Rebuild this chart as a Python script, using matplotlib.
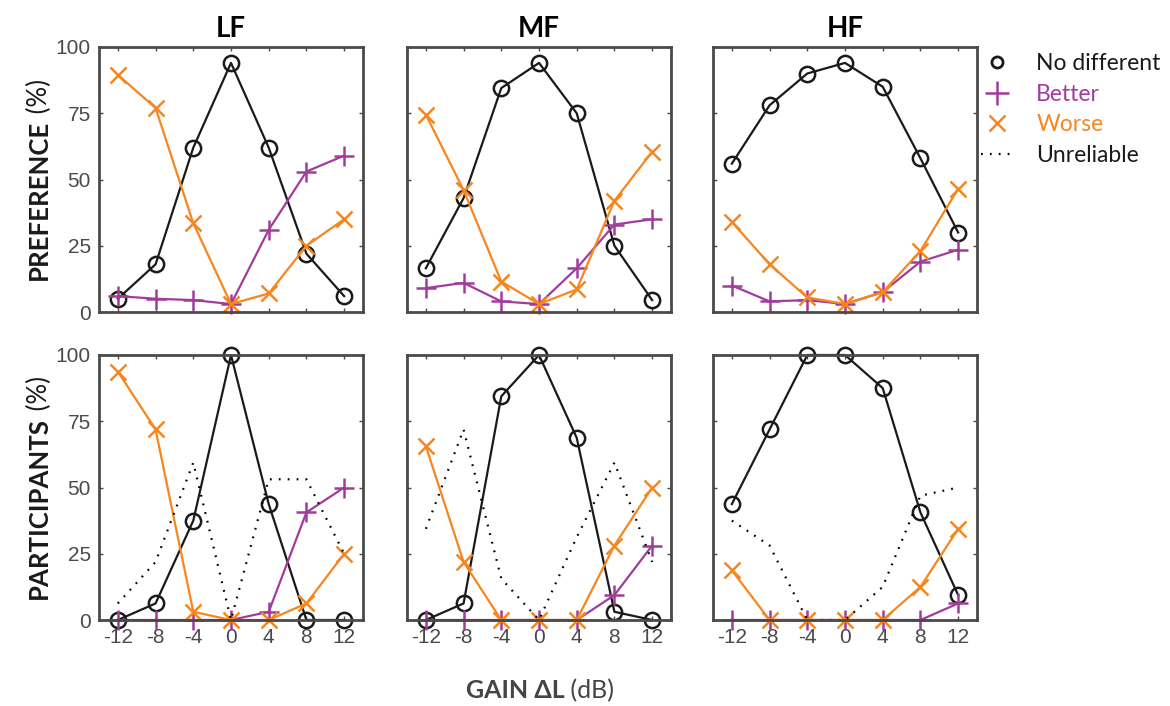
import matplotlib
matplotlib.use('Agg')
import matplotlib.pyplot as plt
from matplotlib.lines import Line2D

plt.rcParams['font.family'] = ['Lato', 'DejaVu Sans']
plt.rcParams['axes.unicode_minus'] = False

# data
gain = [-12, -8, -4, 0, 4, 8, 12]
bands = ['LF', 'MF', 'HF']

# preference (%) per band: LF, MF, HF
pref_nodiff = [[5, 18, 62, 94, 62, 22, 6],
               [16.5, 43, 84.5, 94, 75, 25, 4.5],
               [56, 78, 90, 94, 85, 58, 30]]
pref_better = [[6, 5, 4.5, 3, 31, 53, 59],
               [9, 11, 4, 3, 16.5, 33, 35],
               [10, 4, 4.5, 3, 7.5, 19, 23.5]]
pref_worse = [[89.5, 77, 33.5, 3, 7, 25, 35],
              [74.5, 46, 11.5, 3, 8.5, 42, 60.5],
              [34, 18, 5.5, 3, 7.5, 23, 46.5]]

# participants (%) per band: LF, MF, HF
part_nodiff = [[0, 6.25, 37.5, 100, 43.75, 0, 0],
               [0, 6.25, 84.4, 100, 68.75, 3.1, 0],
               [43.75, 71.9, 100, 100, 87.5, 40.6, 9.4]]
part_better = [[0, 0, 0, 0, 3.1, 40.6, 50],
               [0, 0, 0, 0, 0, 9.4, 28.1],
               [0, 0, 0, 0, 0, 0, 6.25]]
part_worse = [[93.75, 71.9, 3.1, 0, 0, 6.25, 25],
              [65.6, 21.9, 0, 0, 0, 28.1, 50],
              [18.75, 0, 0, 0, 0, 12.5, 34.4]]
part_unrel = [[6.25, 21.9, 59.4, 0, 53.1, 53.1, 25],
              [34.4, 71.9, 15.6, 0, 31.25, 59.4, 21.9],
              [37.5, 28.1, 0, 0, 12.5, 46.9, 50]]

c_nd = '#1a1a1a'
c_better = '#a23c9c'
c_worse = '#f7861f'
frame_c = '#4a4a4a'
tick_c = '#4a4a4a'

W, H = 1170, 706
fig = plt.figure(figsize=(W / 100, H / 100), dpi=100)

lefts = [99, 407, 713]
rows = [(47, 312), (355, 620)]


def style_axes(ax, show_x, show_y):
    ax.set_xlim(-14, 14)
    ax.set_ylim(0, 100)
    ax.set_xticks(gain)
    ax.set_yticks([0, 25, 50, 75, 100])
    ax.tick_params(direction='in', length=3, width=1, color=tick_c,
                   top=True, right=True, labelsize=15, labelcolor=tick_c,
                   pad=6)
    for lab in ax.get_xticklabels() + ax.get_yticklabels():
        lab.set_family(['Liberation Sans', 'DejaVu Sans'])
    if not show_x:
        ax.set_xticklabels([])
    if not show_y:
        ax.set_yticklabels([])
    for s in ax.spines.values():
        s.set_color(frame_c)
        s.set_linewidth(2.0)


for r, (top, bot) in enumerate(rows):
    for i, band in enumerate(bands):
        ax = fig.add_axes([lefts[i] / W, 1 - bot / H, 264 / W, (bot - top) / H])
        if r == 0:
            nd, bt, wr = pref_nodiff[i], pref_better[i], pref_worse[i]
        else:
            nd, bt, wr = part_nodiff[i], part_better[i], part_worse[i]
        ax.plot(gain, nd, '-o', color=c_nd, mfc='none', lw=1.6, ms=11, mew=1.8, clip_on=False)
        ax.plot(gain, bt, '-+', color=c_better, ms=15, lw=1.6, mew=1.8, clip_on=False)
        ax.plot(gain, wr, '-x', color=c_worse, ms=11, lw=1.6, mew=1.8, clip_on=False)
        if r == 1:
            ax.plot(gain, part_unrel[i], color='black', lw=1.6,
                    linestyle=(0, (0.8, 3.2)), clip_on=False)
        style_axes(ax, show_x=(r == 1), show_y=(i == 0))
        if r == 0:
            ax.set_title(band, fontsize=20, fontweight='bold', pad=7)

fig.canvas.draw()
rend = fig.canvas.get_renderer()

# y labels: bold word + regular (%)
for (top, bot), word in zip(rows, ['PREFERENCE', 'PARTICIPANTS']):
    ta = fig.text(0, 0, word, rotation=90, fontsize=18.5, fontweight='bold',
                  color='#1a1a1a', ha='center', va='bottom')
    tb = fig.text(0, 0, ' (%)', rotation=90, fontsize=18.5, color='#1a1a1a',
                  ha='center', va='bottom')
    ha_ = ta.get_window_extent(rend).height
    hb_ = tb.get_window_extent(rend).height
    yc = (top + bot) / 2
    y0 = H - yc - (ha_ + hb_) / 2
    ta.set_position((39 / W, y0 / H))
    tb.set_position((39 / W, (y0 + ha_) / H))

# x label
t2 = fig.text(0, 0, 'GAIN ΔL', fontsize=18, fontweight='bold', color='#444444',
              ha='left', va='baseline')
t3 = fig.text(0, 0, ' (dB)', fontsize=18, color='#444444', ha='left', va='baseline')
w2 = t2.get_window_extent(rend).width
w3 = t3.get_window_extent(rend).width
xc = 540
y_base = 1 - 698 / H
t2.set_position(((xc - (w2 + w3) / 2) / W, y_base))
t3.set_position(((xc - (w2 + w3) / 2 + w2) / W, y_base))

# legend
handles = [
    Line2D([], [], ls='none', marker='o', mfc='none', mec=c_nd, ms=8, mew=2),
    Line2D([], [], ls='none', marker='+', color=c_better, ms=17, mew=1.8),
    Line2D([], [], ls='none', marker='x', color=c_worse, ms=12, mew=1.8),
    Line2D([], [], color='black', lw=1.6, linestyle=(0, (0.8, 3.2))),
]
labels = ['No different', 'Better', 'Worse', 'Unreliable']
leg = fig.legend(handles, labels, loc='upper left',
                 bbox_to_anchor=(972 / W, 1 - 44 / H), frameon=False,
                 fontsize=16.5, handlelength=1.4, handletextpad=1.0,
                 labelspacing=0.42, borderaxespad=0)
for txt, col in zip(leg.get_texts(), ['#1a1a1a', c_better, c_worse, '#1a1a1a']):
    txt.set_color(col)

fig.savefig('out.png', dpi=100)
